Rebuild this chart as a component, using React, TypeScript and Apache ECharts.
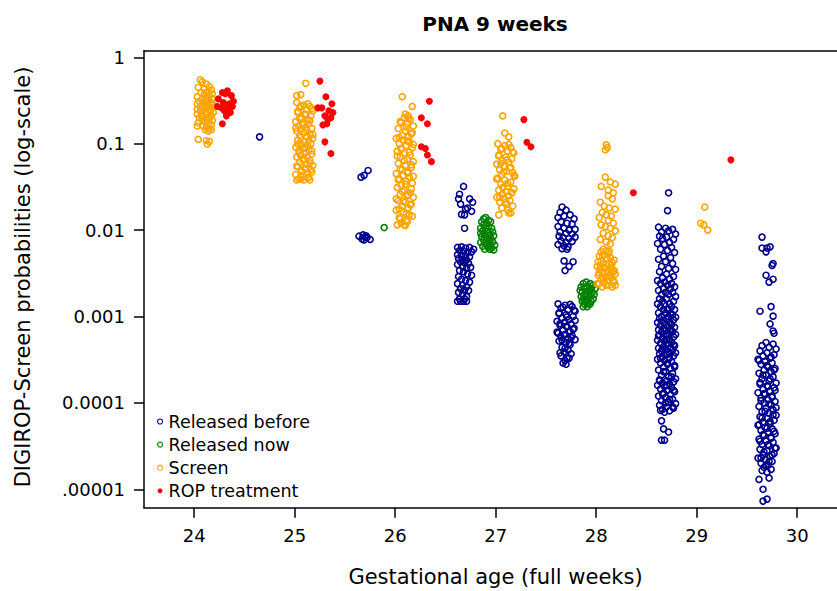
import React, { useEffect, useRef } from "react";
import * as echarts from "echarts";

type Pt = [number, number];

const xTicks = [24, 25, 26, 27, 28, 29, 30];
const yTickExps = [0, -1, -2, -3, -4, -5];
const yTickLabels = ["1", "0.1", "0.01", "0.001", "0.0001", ".00001"];
const seriesNames = ["Released before", "Released now", "Screen", "ROP treatment"];
const seriesColors = ["#00008b", "#008000", "#ffa500", "#ff0000"];
const titleText = "PNA 9 weeks";
const xTitle = "Gestational age (full weeks)";
const yTitle = "DIGIROP-Screen probabilities (log-scale)";

// ---------- Released before (blue) ----------
const blue24: Pt[] = [[24.65, 0.12]];
const blue26: Pt[] = [[25.66, 0.041], [25.69, 0.043], [25.73, 0.049], [25.64, 0.0085], [25.68, 0.0088], [25.70, 0.0083], [25.72, 0.0082], [25.67, 0.0079], [25.69, 0.0077], [25.75, 0.0078], [25.71, 0.0086]];
const blue27: Pt[] = [
  [26.68, 0.032], [26.64, 0.026], [26.63, 0.023], [26.65, 0.020], [26.74, 0.023], [26.77, 0.021], [26.72, 0.018], [26.76, 0.0165], [26.69, 0.015], [26.66, 0.0152], [26.70, 0.0175], [26.69, 0.0105],
  [26.62, 0.0063], [26.66, 0.0064], [26.70, 0.0062], [26.74, 0.0063], [26.78, 0.0060], [26.64, 0.0058], [26.68, 0.0057], [26.72, 0.0055], [26.76, 0.0056], [26.62, 0.0052], [26.66, 0.0051], [26.70, 0.0050], [26.74, 0.0049], [26.63, 0.0047], [26.67, 0.0046], [26.71, 0.0045], [26.65, 0.0043], [26.69, 0.0042], [26.73, 0.0041], [26.62, 0.0040], [26.67, 0.0038], [26.71, 0.0036], [26.75, 0.0037], [26.64, 0.0034], [26.68, 0.0033], [26.72, 0.0031], [26.76, 0.0030], [26.63, 0.0029], [26.66, 0.0027], [26.70, 0.0026], [26.74, 0.0025], [26.62, 0.0024], [26.67, 0.0023], [26.71, 0.0022], [26.65, 0.0021], [26.69, 0.0020], [26.73, 0.0020], [26.63, 0.0019], [26.67, 0.0018], [26.71, 0.0017], [26.64, 0.0016], [26.69, 0.0016], [26.62, 0.0015], [26.65, 0.0015], [26.68, 0.0015], [26.71, 0.0015],
];
const blue28: Pt[] = [
  [27.66, 0.0185], [27.64, 0.016], [27.70, 0.017], [27.62, 0.014], [27.68, 0.0145], [27.74, 0.015], [27.78, 0.0135], [27.65, 0.0125], [27.71, 0.012], [27.76, 0.0118], [27.62, 0.011], [27.68, 0.0105], [27.73, 0.010], [27.79, 0.0102], [27.64, 0.0095], [27.70, 0.0092], [27.76, 0.009], [27.63, 0.0085], [27.67, 0.0082], [27.73, 0.008], [27.79, 0.0083], [27.65, 0.0075], [27.70, 0.0072], [27.76, 0.0074], [27.62, 0.0068], [27.68, 0.0066], [27.72, 0.0064], [27.66, 0.0061], [27.71, 0.0060],
  [27.68, 0.0044], [27.77, 0.0043], [27.69, 0.0034], [27.73, 0.0038],
  [27.62, 0.0014], [27.69, 0.00135], [27.76, 0.0013], [27.65, 0.00125], [27.72, 0.0012], [27.79, 0.00115], [27.63, 0.0011], [27.70, 0.00105], [27.77, 0.001], [27.66, 0.00096], [27.73, 0.00092], [27.61, 0.00088], [27.68, 0.00085], [27.75, 0.00082], [27.64, 0.00079], [27.71, 0.00076], [27.78, 0.00073], [27.67, 0.0007], [27.74, 0.00067], [27.62, 0.00064], [27.69, 0.00062], [27.76, 0.0006], [27.65, 0.00058], [27.72, 0.00056], [27.79, 0.00054], [27.63, 0.00052], [27.70, 0.0005], [27.74, 0.00047], [27.66, 0.00044], [27.72, 0.00041], [27.68, 0.00039], [27.75, 0.00037], [27.65, 0.00035], [27.71, 0.00033], [27.69, 0.00031], [27.67, 0.00029],
  [27.74, 0.00138], [27.67, 0.00128], [27.78, 0.00118], [27.63, 0.00108], [27.71, 0.00099], [27.79, 0.0009], [27.64, 0.00083], [27.70, 0.00077], [27.77, 0.00071], [27.61, 0.00066], [27.68, 0.00061], [27.75, 0.00057], [27.66, 0.00053], [27.73, 0.00049], [27.69, 0.00043], [27.64, 0.00038], [27.73, 0.00033], [27.70, 0.00028],
];
const blue29: Pt[] = [
  [28.72, 0.027], [28.71, 0.0168],
  [28.62, 0.0108], [28.69, 0.0105], [28.76, 0.0102], [28.65, 0.0095], [28.72, 0.0098], [28.79, 0.009], [28.63, 0.0085], [28.70, 0.0083], [28.77, 0.0078], [28.66, 0.008], [28.73, 0.0072], [28.61, 0.007], [28.68, 0.0068], [28.75, 0.0063], [28.64, 0.006], [28.71, 0.0058], [28.78, 0.0055], [28.67, 0.005], [28.74, 0.0048], [28.62, 0.0046], [28.69, 0.0043], [28.76, 0.0041], [28.65, 0.0038], [28.72, 0.0036], [28.79, 0.0035], [28.63, 0.0033], [28.70, 0.0031], [28.77, 0.0029], [28.66, 0.0028], [28.73, 0.0027], [28.61, 0.0026],
  [28.68, 0.0025], [28.75, 0.0024], [28.64, 0.0024], [28.71, 0.0023], [28.78, 0.0022], [28.67, 0.0021], [28.74, 0.0021], [28.62, 0.002], [28.69, 0.0019], [28.76, 0.0019], [28.65, 0.0018], [28.72, 0.0018], [28.79, 0.0017], [28.63, 0.0016], [28.70, 0.0016], [28.77, 0.0015], [28.66, 0.0015], [28.73, 0.0014], [28.61, 0.0014], [28.68, 0.0014], [28.75, 0.0013], [28.64, 0.0013], [28.71, 0.0012], [28.78, 0.0012], [28.67, 0.0012], [28.74, 0.0011], [28.62, 0.0011], [28.69, 0.0011], [28.76, 0.00105], [28.65, 0.001], [28.72, 0.001], [28.79, 0.00098], [28.63, 0.00095], [28.70, 0.00093], [28.77, 0.00091], [28.66, 0.0009], [28.73, 0.00087], [28.61, 0.00085], [28.68, 0.00083], [28.75, 0.00081], [28.64, 0.00079], [28.71, 0.00077], [28.78, 0.00075], [28.67, 0.00073], [28.74, 0.00072], [28.62, 0.0007],
  [28.69, 0.00069], [28.76, 0.00067], [28.65, 0.00066], [28.72, 0.00064], [28.79, 0.00062], [28.63, 0.00061], [28.70, 0.00059], [28.77, 0.00058], [28.66, 0.00056], [28.73, 0.00055], [28.61, 0.00053], [28.68, 0.00052], [28.75, 0.0005], [28.64, 0.00049], [28.71, 0.00048], [28.78, 0.00046], [28.67, 0.00045], [28.74, 0.00044], [28.62, 0.00043], [28.69, 0.00042], [28.76, 0.00041], [28.65, 0.0004], [28.72, 0.00039], [28.79, 0.00038], [28.63, 0.00037], [28.70, 0.00036], [28.77, 0.00035], [28.66, 0.00034], [28.73, 0.00033], [28.61, 0.00032], [28.68, 0.00031], [28.75, 0.0003], [28.64, 0.00029], [28.71, 0.00028], [28.78, 0.00027], [28.67, 0.00026], [28.74, 0.00025], [28.62, 0.00024], [28.69, 0.00023], [28.76, 0.00022], [28.65, 0.00021], [28.72, 0.0002], [28.79, 0.00019], [28.63, 0.000185], [28.70, 0.00018], [28.77, 0.000175], [28.66, 0.00017], [28.73, 0.000165], [28.61, 0.00016], [28.68, 0.000155], [28.75, 0.00015], [28.64, 0.000145], [28.71, 0.00014], [28.78, 0.000135], [28.67, 0.00013], [28.74, 0.000125], [28.62, 0.00012], [28.69, 0.000115], [28.76, 0.00011], [28.65, 0.000106], [28.72, 0.000102], [28.79, 0.000098], [28.63, 0.000094], [28.70, 0.00009], [28.77, 0.000087], [28.66, 0.000084], [28.73, 0.000081], [28.68, 0.000078],
  [28.74, 0.00068], [28.62, 0.0006], [28.70, 0.00054], [28.77, 0.00047], [28.66, 0.00042], [28.73, 0.00037], [28.64, 0.00033], [28.71, 0.00029], [28.78, 0.00026], [28.67, 0.00023], [28.75, 0.0002], [28.63, 0.00018], [28.70, 0.00016], [28.77, 0.00014], [28.66, 0.000125], [28.73, 0.00011], [28.69, 0.0001], [28.76, 0.00009], [28.64, 0.000082],
  [28.65, 6.2e-5], [28.67, 5.0e-5], [28.72, 4.6e-5], [28.65, 3.7e-5], [28.68, 3.7e-5],
];
const blue30: Pt[] = [
  [29.65, 0.0083], [29.65, 0.0062], [29.70, 0.0062], [29.73, 0.0064], [29.69, 0.0056], [29.75, 0.0039], [29.76, 0.0041], [29.69, 0.003], [29.76, 0.0027], [29.72, 0.0025], [29.63, 0.00115], [29.74, 0.0013], [29.76, 0.00101], [29.73, 0.00082], [29.76, 0.00068], [29.77, 0.00064],
  [29.69, 0.0005], [29.76, 0.00048], [29.65, 0.00046], [29.72, 0.00044], [29.79, 0.00042], [29.63, 0.0004], [29.70, 0.00038], [29.77, 0.00036], [29.66, 0.00035], [29.73, 0.00033], [29.61, 0.00032], [29.68, 0.0003], [29.75, 0.00029], [29.64, 0.00028], [29.71, 0.00026], [29.78, 0.00025], [29.67, 0.00024], [29.74, 0.00023], [29.62, 0.00022], [29.69, 0.00021], [29.76, 0.0002], [29.65, 0.00019], [29.72, 0.00018], [29.79, 0.00017], [29.63, 0.000165], [29.70, 0.000158], [29.77, 0.00015], [29.66, 0.000144], [29.73, 0.000137], [29.61, 0.000131], [29.68, 0.000125], [29.75, 0.00012], [29.64, 0.000114], [29.71, 0.000109], [29.78, 0.000104], [29.67, 0.0001], [29.74, 0.000095], [29.62, 0.000091], [29.69, 0.000087], [29.76, 0.000083], [29.65, 0.000079], [29.72, 0.000076], [29.79, 0.000072], [29.63, 0.000069], [29.70, 0.000066], [29.77, 0.000063], [29.66, 0.00006], [29.73, 0.000057], [29.61, 0.000055], [29.68, 0.000052], [29.75, 0.00005], [29.64, 0.000048], [29.71, 0.000046], [29.78, 0.000044], [29.67, 0.000042], [29.74, 0.00004], [29.62, 0.000038], [29.69, 0.000036], [29.76, 0.000035], [29.65, 0.000033], [29.72, 0.000032], [29.79, 0.00003], [29.63, 0.000029], [29.70, 0.000028], [29.77, 0.000026], [29.66, 0.000025], [29.73, 0.000024], [29.61, 0.000023], [29.68, 0.000022], [29.75, 0.000021], [29.64, 0.00002], [29.71, 0.000019], [29.67, 0.000018], [29.74, 0.000017], [29.65, 0.0000165], [29.70, 0.0000158],
  [29.74, 0.00034], [29.62, 0.00031], [29.70, 0.00027], [29.77, 0.00024], [29.66, 0.00021], [29.73, 0.00019], [29.63, 0.000172], [29.71, 0.000155], [29.78, 0.00014], [29.67, 0.000128], [29.75, 0.000116], [29.64, 0.000106], [29.72, 0.000097], [29.79, 0.000088], [29.68, 0.00008], [29.76, 0.000073], [29.65, 0.000067], [29.73, 0.000061], [29.62, 0.000056], [29.70, 0.000051], [29.77, 0.000047], [29.66, 0.000043], [29.74, 0.000039], [29.63, 0.000036], [29.71, 0.000033], [29.78, 0.00003], [29.67, 0.000027], [29.75, 0.000025], [29.64, 0.000023], [29.72, 0.000021], [29.69, 0.000019],
  [29.62, 1.3e-5], [29.72, 1.35e-5], [29.66, 1.0e-5], [29.66, 7.3e-6], [29.70, 7.7e-6],
];

// ---------- Released now (green) ----------
const green26: Pt[] = [[25.89, 0.0107]];
const green27: Pt[] = [
  [26.90, 0.014], [26.88, 0.0135], [26.93, 0.013], [26.86, 0.0125], [26.91, 0.012], [26.95, 0.0125], [26.88, 0.0115], [26.93, 0.011], [26.85, 0.0105], [26.90, 0.0105], [26.96, 0.0105], [26.87, 0.0098], [26.92, 0.0097], [26.97, 0.0095], [26.85, 0.0092], [26.89, 0.009], [26.94, 0.0088], [26.98, 0.0086], [26.86, 0.0084], [26.91, 0.0082], [26.95, 0.008], [26.88, 0.0077], [26.93, 0.0075], [26.97, 0.0073], [26.85, 0.0072], [26.90, 0.0070], [26.94, 0.0068], [26.99, 0.0067], [26.87, 0.0065], [26.92, 0.0064], [26.96, 0.0062], [26.89, 0.0060], [26.94, 0.0060], [26.98, 0.0059],
];
const green28: Pt[] = [
  [27.90, 0.0025], [27.94, 0.0024], [27.87, 0.0024], [27.97, 0.0023], [27.85, 0.0022], [27.91, 0.0022], [27.95, 0.0021], [27.88, 0.0021], [27.99, 0.0021], [27.84, 0.0020], [27.92, 0.0020], [27.96, 0.0019], [27.86, 0.0019], [27.90, 0.0018], [27.94, 0.0018], [27.98, 0.0018], [27.85, 0.0017], [27.89, 0.0017], [27.93, 0.0017], [27.97, 0.0016], [27.87, 0.0016], [27.91, 0.0016], [27.95, 0.0015], [27.86, 0.0015], [27.90, 0.0015], [27.94, 0.0014], [27.88, 0.0014], [27.92, 0.0014], [27.87, 0.0013], [27.91, 0.0013],
];

// ---------- Screen (orange) ----------
const orange24: Pt[] = [
  [24.06, 0.55], [24.08, 0.52], [24.12, 0.49], [24.15, 0.46], [24.04, 0.45], [24.10, 0.43], [24.17, 0.42], [24.13, 0.40], [24.07, 0.39], [24.18, 0.38], [24.10, 0.37], [24.15, 0.36], [24.03, 0.35], [24.12, 0.34], [24.18, 0.33], [24.08, 0.33], [24.14, 0.32], [24.05, 0.31], [24.11, 0.31], [24.17, 0.30], [24.09, 0.30], [24.13, 0.29], [24.03, 0.29], [24.19, 0.28], [24.10, 0.28], [24.15, 0.27], [24.06, 0.27], [24.12, 0.26], [24.18, 0.26], [24.03, 0.25], [24.09, 0.25], [24.14, 0.25], [24.16, 0.24], [24.06, 0.24], [24.11, 0.23], [24.19, 0.23], [24.03, 0.22], [24.13, 0.22], [24.08, 0.21], [24.17, 0.21], [24.05, 0.20], [24.12, 0.20], [24.15, 0.195], [24.08, 0.19], [24.18, 0.185], [24.11, 0.18], [24.04, 0.175], [24.14, 0.17], [24.17, 0.165], [24.09, 0.16], [24.12, 0.155], [24.03, 0.16], [24.15, 0.15], [24.11, 0.145], [24.17, 0.145], [24.14, 0.14],
  [24.04, 0.112], [24.12, 0.109], [24.15, 0.106], [24.13, 0.099],
];
const orange25: Pt[] = [
  [25.11, 0.5], [25.02, 0.36], [25.06, 0.37],
  [25.02, 0.3], [25.09, 0.28], [25.15, 0.27], [25.05, 0.26], [25.12, 0.25], [25.18, 0.24], [25.03, 0.23], [25.10, 0.22], [25.16, 0.21], [25.07, 0.2], [25.13, 0.19], [25.01, 0.18], [25.08, 0.175], [25.14, 0.17], [25.04, 0.16], [25.11, 0.155], [25.17, 0.15], [25.06, 0.145], [25.02, 0.14], [25.09, 0.135], [25.15, 0.13], [25.05, 0.125], [25.12, 0.12], [25.18, 0.115], [25.03, 0.11], [25.10, 0.105], [25.16, 0.1], [25.07, 0.097], [25.13, 0.094], [25.01, 0.091], [25.08, 0.088], [25.14, 0.085], [25.04, 0.082], [25.11, 0.079], [25.17, 0.076], [25.06, 0.073], [25.02, 0.07], [25.09, 0.067], [25.15, 0.064], [25.05, 0.061], [25.12, 0.058], [25.18, 0.056], [25.03, 0.054], [25.10, 0.052], [25.16, 0.05], [25.07, 0.048], [25.13, 0.046], [25.01, 0.044], [25.08, 0.042], [25.14, 0.041], [25.04, 0.039],
  [25.13, 0.29], [25.06, 0.275], [25.17, 0.255], [25.03, 0.235], [25.11, 0.215], [25.05, 0.195], [25.15, 0.185], [25.08, 0.165], [25.01, 0.152], [25.12, 0.142], [25.18, 0.128], [25.06, 0.118], [25.14, 0.108], [25.03, 0.099], [25.10, 0.09], [25.17, 0.083], [25.05, 0.077], [25.12, 0.071], [25.08, 0.065], [25.15, 0.06], [25.02, 0.055], [25.11, 0.051], [25.17, 0.047], [25.06, 0.043], [25.13, 0.04], [25.09, 0.038],
  [25.02, 0.038], [25.06, 0.039], [25.15, 0.038],
];
const orange26: Pt[] = [
  [26.07, 0.35], [26.17, 0.27], [26.10, 0.22], [26.13, 0.21],
  [26.09, 0.2], [26.15, 0.19], [26.05, 0.18], [26.12, 0.17], [26.18, 0.16], [26.03, 0.15], [26.10, 0.14], [26.16, 0.13], [26.07, 0.125], [26.13, 0.12], [26.01, 0.115], [26.08, 0.11], [26.14, 0.105], [26.04, 0.1], [26.11, 0.095], [26.17, 0.09], [26.06, 0.086], [26.02, 0.082], [26.09, 0.078], [26.15, 0.074], [26.05, 0.07], [26.12, 0.066], [26.18, 0.062], [26.03, 0.059], [26.10, 0.056], [26.16, 0.053], [26.07, 0.05], [26.13, 0.047], [26.01, 0.045], [26.08, 0.043], [26.14, 0.041], [26.04, 0.039], [26.11, 0.037], [26.17, 0.035], [26.06, 0.033], [26.02, 0.031], [26.09, 0.029], [26.15, 0.027], [26.05, 0.026], [26.12, 0.025], [26.18, 0.024], [26.03, 0.022], [26.10, 0.021], [26.16, 0.02], [26.07, 0.019], [26.13, 0.018], [26.01, 0.017], [26.08, 0.016], [26.14, 0.015], [26.04, 0.014], [26.11, 0.013], [26.06, 0.012],
  [26.13, 0.195], [26.06, 0.175], [26.11, 0.155], [26.17, 0.135], [26.04, 0.118], [26.12, 0.108], [26.18, 0.098], [26.06, 0.088], [26.14, 0.08], [26.02, 0.072], [26.09, 0.064], [26.16, 0.057], [26.05, 0.051], [26.12, 0.046], [26.18, 0.042], [26.03, 0.038], [26.10, 0.034], [26.16, 0.03], [26.07, 0.028], [26.13, 0.0255], [26.01, 0.023], [26.08, 0.0215], [26.15, 0.0195], [26.04, 0.0175], [26.11, 0.0155], [26.17, 0.0145], [26.05, 0.0135], [26.12, 0.0125], [26.09, 0.0115],
  [26.02, 0.0115], [26.10, 0.0113],
];
const orange27: Pt[] = [
  [27.07, 0.21], [27.09, 0.133], [27.13, 0.12],
  [27.02, 0.1], [27.09, 0.095], [27.15, 0.09], [27.05, 0.086], [27.12, 0.082], [27.18, 0.078], [27.03, 0.074], [27.10, 0.07], [27.16, 0.067], [27.07, 0.064], [27.13, 0.061], [27.01, 0.058], [27.08, 0.055], [27.14, 0.052], [27.04, 0.05], [27.11, 0.048], [27.17, 0.046], [27.06, 0.044], [27.19, 0.042], [27.02, 0.04], [27.09, 0.038], [27.15, 0.036], [27.05, 0.034], [27.12, 0.032], [27.18, 0.03], [27.03, 0.029], [27.10, 0.028], [27.16, 0.027], [27.07, 0.026], [27.13, 0.025], [27.01, 0.024], [27.08, 0.023], [27.14, 0.022], [27.04, 0.021], [27.11, 0.02], [27.17, 0.019], [27.06, 0.018], [27.12, 0.017],
  [27.13, 0.098], [27.06, 0.088], [27.17, 0.08], [27.03, 0.072], [27.11, 0.065], [27.05, 0.059], [27.15, 0.053], [27.08, 0.047], [27.18, 0.043], [27.01, 0.039], [27.12, 0.035], [27.07, 0.031], [27.16, 0.027], [27.04, 0.024], [27.10, 0.021],
  [27.03, 0.015], [27.13, 0.0158], [27.15, 0.0158],
];
const orange28: Pt[] = [
  [28.10, 0.097], [28.09, 0.085], [28.11, 0.09],
  [28.09, 0.041], [28.14, 0.036], [28.19, 0.034], [28.05, 0.032], [28.12, 0.029], [28.17, 0.027], [28.12, 0.025], [28.16, 0.023], [28.04, 0.021], [28.08, 0.019], [28.13, 0.018], [28.19, 0.0175], [28.06, 0.016], [28.10, 0.015], [28.15, 0.0145], [28.03, 0.014], [28.12, 0.013], [28.17, 0.012], [28.05, 0.0115], [28.09, 0.011], [28.14, 0.0105], [28.19, 0.0098], [28.07, 0.0092], [28.12, 0.0086], [28.16, 0.0082], [28.04, 0.0078], [28.10, 0.0073], [28.14, 0.0069],
  [28.07, 0.006], [28.10, 0.0058], [28.05, 0.0056], [28.12, 0.0054], [28.08, 0.0052], [28.03, 0.005], [28.14, 0.0048], [28.10, 0.0046], [28.05, 0.0044], [28.16, 0.0042], [28.07, 0.0041], [28.13, 0.004], [28.01, 0.0038], [28.08, 0.0037], [28.14, 0.0036], [28.04, 0.0035], [28.11, 0.0034], [28.17, 0.0033], [28.06, 0.0032], [28.19, 0.0031], [28.02, 0.003], [28.09, 0.0029], [28.15, 0.0028], [28.05, 0.0027], [28.12, 0.0026], [28.18, 0.0025], [28.03, 0.0024], [28.10, 0.0023], [28.16, 0.0022],
  [28.13, 0.0057], [28.06, 0.0051], [28.11, 0.0047], [28.02, 0.0043], [28.15, 0.0039], [28.09, 0.0036], [28.18, 0.0034], [28.03, 0.0032], [28.13, 0.003], [28.07, 0.0028], [28.17, 0.0026], [28.01, 0.0024], [28.13, 0.0023], [28.06, 0.0022],
  [28.18, 0.0045], [28.04, 0.0038], [28.16, 0.0033], [28.11, 0.0029], [28.08, 0.0025], [28.19, 0.0023],
];
const orange29: Pt[] = [[29.08, 0.0185], [29.04, 0.012], [29.07, 0.0115], [29.11, 0.01]];

// ---------- ROP treatment (red) ----------
const red24: Pt[] = [[24.28, 0.39], [24.33, 0.41], [24.31, 0.38], [24.37, 0.36], [24.24, 0.33], [24.29, 0.30], [24.35, 0.29], [24.39, 0.31], [24.23, 0.27], [24.27, 0.26], [24.33, 0.26], [24.38, 0.27], [24.30, 0.24], [24.36, 0.23], [24.32, 0.21], [24.28, 0.17]];
const red25: Pt[] = [[25.25, 0.53], [25.31, 0.35], [25.37, 0.29], [25.23, 0.26], [25.27, 0.26], [25.38, 0.23], [25.34, 0.24], [25.30, 0.21], [25.33, 0.19], [25.36, 0.20], [25.28, 0.165], [25.32, 0.17], [25.30, 0.105], [25.36, 0.077]];
const red26: Pt[] = [[26.34, 0.31], [26.26, 0.20], [26.32, 0.17], [26.26, 0.092], [26.30, 0.088], [26.32, 0.074], [26.36, 0.062]];
const red27: Pt[] = [[27.28, 0.19], [27.31, 0.104], [27.35, 0.092]];
const red28: Pt[] = [[28.37, 0.027]];
const red29: Pt[] = [[29.34, 0.065]];

const groups: Pt[][] = [
  [...blue24, ...blue26, ...blue27, ...blue28, ...blue29, ...blue30],
  [...green26, ...green27, ...green28],
  [...orange24, ...orange25, ...orange26, ...orange27, ...orange28, ...orange29],
  [...red24, ...red25, ...red26, ...red27, ...red28, ...red29],
];

const FONT = '"DejaVu Sans", "Liberation Sans", Arial, sans-serif';

export default function App() {
  const ref = useRef<HTMLDivElement>(null);
  useEffect(() => {
    if (!ref.current) return;
    const chart = echarts.init(ref.current, undefined, { renderer: "svg" });
    const axisLineStyle = { color: "#000", width: 1.5 };
    const series = groups.map((pts, i) => {
      const filled = i === 3;
      return {
        type: "scatter",
        name: seriesNames[i],
        data: pts.map(([x, p]) => [x, Math.log10(p)]),
        symbol: "circle",
        symbolSize: filled ? 7 : 6,
        itemStyle: filled
          ? { color: seriesColors[i], opacity: 1 }
          : { color: "rgba(0,0,0,0)", borderColor: seriesColors[i], borderWidth: 1.6, opacity: 1 },
        emphasis: { disabled: true },
        silent: true,
      };
    });
    chart.setOption({
      animation: false,
      backgroundColor: "#fff",
      textStyle: { fontFamily: FONT },
      grid: { left: 144, right: 0, top: 50.7, bottom: 83.3, containLabel: false, outerBoundsMode: "none" },
      xAxis: [
        {
          type: "value",
          min: 23.5,
          max: 30.396,
          axisLine: { show: true, onZero: false, lineStyle: axisLineStyle },
          axisTick: { show: true, length: 10, lineStyle: axisLineStyle, customValues: xTicks },
          axisLabel: { show: true, customValues: xTicks, fontSize: 18, color: "#000", margin: 19, fontFamily: FONT },
          splitLine: { show: false },
        },
        {
          type: "value",
          position: "top",
          min: 23.5,
          max: 30.396,
          axisLine: { show: true, onZero: false, lineStyle: axisLineStyle },
          axisTick: { show: false },
          axisLabel: { show: false },
          splitLine: { show: false },
        },
      ],
      yAxis: {
        type: "value",
        min: -5.213,
        max: 0.0764,
        axisLine: { show: true, onZero: false, lineStyle: axisLineStyle },
        axisTick: { show: true, length: 10, lineStyle: axisLineStyle, customValues: yTickExps },
        axisLabel: {
          show: true,
          customValues: yTickExps,
          fontSize: 18,
          color: "#000",
          margin: 19,
          fontFamily: FONT,
          formatter: (v: number) => {
            const idx = yTickExps.findIndex((e) => Math.abs(e - v) < 1e-6);
            return idx >= 0 ? yTickLabels[idx] : "";
          },
        },
        splitLine: { show: false },
      },
      legend: {
        show: true,
        data: seriesNames,
        orient: "vertical",
        left: 152,
        top: 407.5,
        itemWidth: 5,
        itemHeight: 5,
        itemGap: 5.1,
        selectedMode: false,
        itemStyle: { borderWidth: 1.1 },
        textStyle: { fontSize: 17.5, color: "#000", fontFamily: FONT, lineHeight: 18, padding: [0, 0, 0, 1] },
      },
      graphic: [
        {
          type: "text",
          x: 495,
          y: 24,
          style: { text: titleText, fontSize: 20, fontWeight: "bold", fontFamily: FONT, fill: "#000", align: "center", verticalAlign: "middle" },
        },
        {
          type: "text",
          x: 495.5,
          y: 577,
          style: { text: xTitle, fontSize: 21, fontFamily: FONT, fill: "#000", align: "center", verticalAlign: "middle" },
        },
        {
          type: "text",
          x: 23,
          y: 277,
          rotation: Math.PI / 2,
          style: { text: yTitle, fontSize: 21, fontFamily: FONT, fill: "#000", align: "center", verticalAlign: "middle" },
        },
      ],
      series,
    } as any);
    return () => chart.dispose();
  }, []);
  return <div ref={ref} style={{ position: "fixed", left: 0, top: 0, width: 837, height: 591 }} />;
}
